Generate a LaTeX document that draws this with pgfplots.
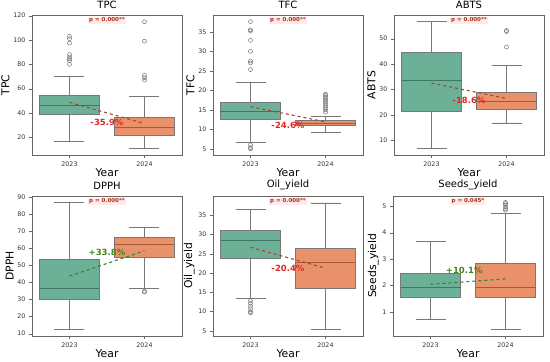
\documentclass[border=0pt]{standalone}
\usepackage{pgfplots}
\pgfplotsset{compat=1.18}
\usepgfplotslibrary{statistics}
\usepackage{fontspec}
\setmainfont{DejaVu Sans}
\definecolor{bgreen}{RGB}{108,176,152}
\definecolor{borange}{RGB}{232,145,106}
\definecolor{edgegray}{RGB}{120,120,120}
\definecolor{mgreen}{RGB}{62,118,98}
\definecolor{morange}{RGB}{165,88,58}
\definecolor{meanred}{RGB}{160,72,42}
\definecolor{meangreen}{RGB}{52,128,52}
\definecolor{pctred}{RGB}{222,40,40}
\definecolor{pctgreen}{RGB}{72,130,30}
\definecolor{pcol}{RGB}{172,52,30}
\pgfplotsset{
  panel/.style={scale only axis, width=150pt, height=140pt,
    xmin=-0.5, xmax=1.5, xtick={0,1}, xticklabels={2023,2024},
    tick pos=left, tick align=outside, major tick length=3pt,
    ticklabel style={font=\fontsize{6.3}{7.5}\selectfont, text=black!80},
    /pgf/number format/assume math mode=true,
    label style={font=\fontsize{10.8}{13}\selectfont},
    title style={font=\fontsize{10}{12}\selectfont, yshift=-3.5pt},
    xlabel={Year}, xlabel shift=-5pt, ylabel shift=-3pt,
    axis line style={black!60}, tick style={black!60},
    boxplot/draw direction=y,
    anchor=south west},
  bx23/.style={draw=edgegray, fill=bgreen, line width=0.7pt, mark=o, mark size=2pt,
    mark options={draw=black!55, fill=none, line width=0.5pt},
    boxplot/draw direction=y,
    boxplot/every median/.style={draw=mgreen, line width=0.9pt},
    boxplot/box extend=0.8, boxplot/whisker extend=0.4},
  bx24/.style={draw=edgegray, fill=borange, line width=0.7pt, mark=o, mark size=2pt,
    mark options={draw=black!55, fill=none, line width=0.5pt},
    boxplot/draw direction=y,
    boxplot/every median/.style={draw=morange, line width=0.9pt},
    boxplot/box extend=0.8, boxplot/whisker extend=0.4},
  meandec/.style={draw=meanred, dashed, line width=1.1pt, mark=none},
  meaninc/.style={draw=meangreen, dashed, line width=1.1pt, mark=none},
}
\newcommand{\pval}[1]{\node[font=\bfseries\fontsize{5.5}{6}\selectfont, text=pcol, fill=pink!35, inner sep=1pt] at (rel axis cs:0.5,0.962) {#1};}
\newcommand{\pctd}[3]{\node[font=\bfseries\fontsize{8.5}{10}\selectfont, text=pctred] at (axis cs:#1,#2) {#3};}
\newcommand{\pcti}[3]{\node[font=\bfseries\fontsize{8.5}{10}\selectfont, text=pctgreen] at (axis cs:#1,#2) {#3};}
\begin{document}
\begin{tikzpicture}
\path[use as bounding box] (0,0) rectangle (550pt,362pt);
% TPC
\begin{axis}[panel, at={(32pt,207pt)}, title={TPC}, ylabel={TPC}, ymin=5.5, ymax=120.5, ytick={20,40,60,80,100,120}]
\addplot[bx23, boxplot prepared={draw position=0, median=45.8, upper quartile=54.3, lower quartile=39.2, upper whisker=70.1, lower whisker=16.7}] coordinates {(0,80) (0,83) (0,84.5) (0,86) (0,88) (0,97.5) (0,101) (0,103)};
\addplot[bx24, boxplot prepared={draw position=1, median=28.0, upper quartile=36.4, lower quartile=22.0, upper whisker=53.7, lower whisker=10.7}] coordinates {(1,67) (1,69) (1,71) (1,99) (1,115)};
\addplot[meandec] coordinates {(0,48.8) (1,31.3)};
\pctd{0.5}{32}{-35.9\%}
\pval{p = 0.000**}
\end{axis}
% TFC
\begin{axis}[panel, at={(213pt,207pt)}, title={TFC}, ylabel={TFC}, ymin=3.4, ymax=39.3, ytick={5,10,15,20,25,30,35}]
\addplot[bx23, boxplot prepared={draw position=0, median=14.5, upper quartile=16.8, lower quartile=12.6, upper whisker=22.0, lower whisker=6.7}] coordinates {(0,5.0) (0,5.3) (0,6.0) (0,25.3) (0,27) (0,27.5) (0,30) (0,32.8) (0,35.2) (0,35.5) (0,37.6)};
\addplot[bx24, boxplot prepared={draw position=1, median=11.5, upper quartile=12.2, lower quartile=10.9, upper whisker=13.3, lower whisker=9.2}] coordinates {(1,14.4) (1,15) (1,15.5) (1,16) (1,16.5) (1,17) (1,17.5) (1,18) (1,18.3) (1,18.7) (1,19)};
\addplot[meandec] coordinates {(0,15.8) (1,11.9)};
\pctd{0.5}{11.1}{-24.6\%}
\pval{p = 0.000**}
\end{axis}
% ABTS
\begin{axis}[panel, at={(394pt,207pt)}, title={ABTS}, ylabel={ABTS}, ymin=4.2, ymax=59.3, ytick={10,20,30,40,50}]
\addplot[bx23, boxplot prepared={draw position=0, median=33.7, upper quartile=44.7, lower quartile=21.4, upper whisker=56.7, lower whisker=6.7}] coordinates {};
\addplot[bx24, boxplot prepared={draw position=1, median=25.4, upper quartile=28.9, lower quartile=22.0, upper whisker=39.6, lower whisker=16.8}] coordinates {(1,46.7) (1,52.8) (1,53.2)};
\addplot[meandec] coordinates {(0,32.5) (1,26.45)};
\pctd{0.5}{25.5}{-18.6\%}
\pval{p = 0.000**}
\end{axis}
% DPPH
\begin{axis}[panel, at={(32pt,26pt)}, title={DPPH}, ylabel={DPPH}, ymin=8.6, ymax=90.6, ytick={10,20,30,40,50,60,70,80,90}]
\addplot[bx23, boxplot prepared={draw position=0, median=36.7, upper quartile=53.7, lower quartile=30.3, upper whisker=86.7, lower whisker=12.3}] coordinates {};
\addplot[bx24, boxplot prepared={draw position=1, median=62.1, upper quartile=66.6, lower quartile=54.5, upper whisker=72.0, lower whisker=36.3}] coordinates {(1,34.3) (1,34.8)};
\addplot[meaninc] coordinates {(0,43.7) (1,58.5)};
\pcti{0.5}{57.6}{+33.8\%}
\pval{p = 0.000**}
\end{axis}
% Oil_yield
\begin{axis}[panel, at={(213pt,26pt)}, title={Oil\_yield}, ylabel={Oil\_yield}, ymin=3.65, ymax=40.0, ytick={5,10,15,20,25,30,35}]
\addplot[bx23, boxplot prepared={draw position=0, median=28.4, upper quartile=31.1, lower quartile=23.9, upper whisker=36.6, lower whisker=13.3}] coordinates {(0,12.8) (0,12.1) (0,11.4) (0,10.7) (0,10.0) (0,9.6)};
\addplot[bx24, boxplot prepared={draw position=1, median=22.8, upper quartile=26.5, lower quartile=16.1, upper whisker=38.2, lower whisker=5.3}] coordinates {};
\addplot[meandec] coordinates {(0,26.7) (1,21.25)};
\pctd{0.5}{21.1}{-20.4\%}
\pval{p = 0.000**}
\end{axis}
% Seeds_yield
\begin{axis}[panel, at={(393pt,26pt)}, title={Seeds\_yield}, ylabel={Seeds\_yield}, ymin=0.08, ymax=5.39, ytick={1,2,3,4,5}]
\addplot[bx23, boxplot prepared={draw position=0, median=1.94, upper quartile=2.47, lower quartile=1.55, upper whisker=3.68, lower whisker=0.70}] coordinates {};
\addplot[bx24, boxplot prepared={draw position=1, median=1.94, upper quartile=2.82, lower quartile=1.56, upper whisker=4.72, lower whisker=0.32}] coordinates {(1,4.85) (1,4.90) (1,4.97) (1,5.05) (1,5.10) (1,5.15)};
\addplot[meaninc] coordinates {(0,2.04) (1,2.246)};
\pcti{0.45}{2.57}{+10.1\%}
\pval{p = 0.045*}
\end{axis}
\end{tikzpicture}
\end{document}
